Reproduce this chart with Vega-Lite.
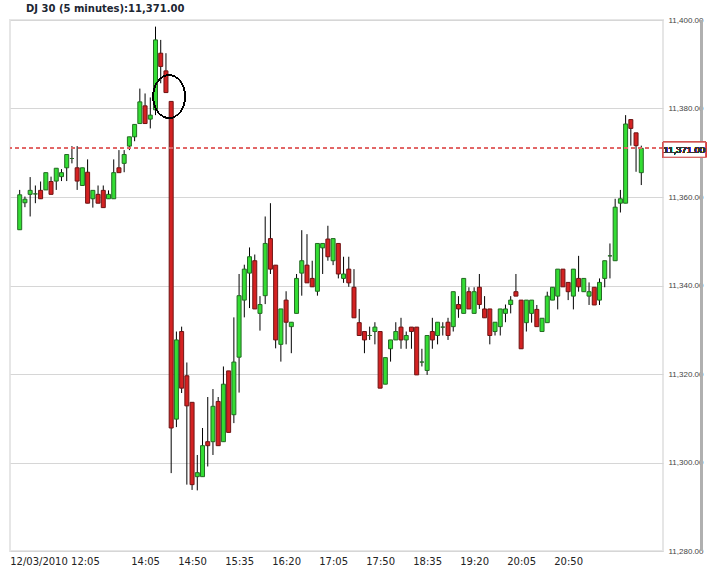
{
  "$schema": "https://vega.github.io/schema/vega-lite/v6.json",
  "width": 653,
  "height": 531,
  "autosize": "none",
  "padding": {"left": 10, "top": 20, "right": 49, "bottom": 20},
  "background": "#ffffff",
  "title": {
    "text": "DJ 30 (5 minutes):11,371.00",
    "frame": "group",
    "anchor": "start",
    "dx": 16,
    "offset": 2,
    "font": "DejaVu Sans",
    "fontSize": 10,
    "fontWeight": "bold",
    "color": "#1c2632"
  },
  "config": {
    "view": {"stroke": "#e6e6e6", "strokeWidth": 2},
    "font": "Liberation Sans"
  },
  "data": {
    "values": [
      {"i":1,"o":11352.6,"h":11361.6,"l":11352.6,"c":11360.5},
      {"i":2,"o":11358.7,"h":11360.1,"l":11357.7,"c":11359.5},
      {"i":3,"o":11360.6,"h":11364.5,"l":11355.6,"c":11361.5},
      {"i":4,"o":11360.7,"h":11362.6,"l":11358.6,"c":11360.7},
      {"i":5,"o":11361.5,"h":11363.5,"l":11359.6,"c":11359.6},
      {"i":6,"o":11361.6,"h":11365.5,"l":11361.6,"c":11365.5},
      {"i":7,"o":11363.5,"h":11364.6,"l":11360.6,"c":11360.6},
      {"i":8,"o":11363.6,"h":11366.5,"l":11361.6,"c":11366.5},
      {"i":9,"o":11364.6,"h":11366.3,"l":11363.6,"c":11365.5},
      {"i":10,"o":11366.6,"h":11369.6,"l":11363.6,"c":11369.6},
      {"i":11,"o":11368.7,"h":11371.5,"l":11367.6,"c":11368.7},
      {"i":12,"o":11366.6,"h":11371.5,"l":11361.6,"c":11363.6},
      {"i":13,"o":11362.6,"h":11366.6,"l":11362.6,"c":11366.6},
      {"i":14,"o":11365.6,"h":11368.5,"l":11358.6,"c":11358.6},
      {"i":15,"o":11359.6,"h":11361.5,"l":11357.6,"c":11361.5},
      {"i":16,"o":11360.6,"h":11362.6,"l":11358.6,"c":11358.6},
      {"i":17,"o":11361.5,"h":11362.6,"l":11357.6,"c":11357.6},
      {"i":18,"o":11359.6,"h":11361.5,"l":11359.6,"c":11360.6},
      {"i":19,"o":11359.6,"h":11368.5,"l":11359.6,"c":11365.5},
      {"i":20,"o":11366.6,"h":11370.6,"l":11365.5,"c":11365.5},
      {"i":21,"o":11367.6,"h":11370.6,"l":11365.6,"c":11369.6},
      {"i":22,"o":11371.5,"h":11373.6,"l":11370.6,"c":11373.6},
      {"i":23,"o":11373.6,"h":11376.4,"l":11372.6,"c":11376.4},
      {"i":24,"o":11376.6,"h":11384.5,"l":11376.6,"c":11381.5},
      {"i":25,"o":11380.6,"h":11383.4,"l":11376.6,"c":11376.6},
      {"i":26,"o":11377.6,"h":11382.5,"l":11375.5,"c":11378.5},
      {"i":27,"o":11379.7,"h":11398.5,"l":11378.5,"c":11395.5},
      {"i":28,"o":11392.5,"h":11395.5,"l":11385.7,"c":11389.5},
      {"i":29,"o":11388.5,"h":11392.5,"l":11383.6,"c":11383.6},
      {"i":30,"o":11381.6,"h":11381.6,"l":11297.6,"c":11307.8},
      {"i":31,"o":11309.8,"h":11329.6,"l":11308.0,"c":11327.7},
      {"i":32,"o":11329.6,"h":11330.7,"l":11315.7,"c":11316.8},
      {"i":33,"o":11319.6,"h":11322.6,"l":11295.0,"c":11312.8},
      {"i":34,"o":11313.6,"h":11313.6,"l":11293.8,"c":11295.0},
      {"i":35,"o":11296.8,"h":11301.7,"l":11293.7,"c":11297.7},
      {"i":36,"o":11296.8,"h":11307.8,"l":11296.8,"c":11303.8},
      {"i":37,"o":11304.7,"h":11314.8,"l":11299.1,"c":11303.8},
      {"i":38,"o":11304.7,"h":11316.6,"l":11301.7,"c":11312.7},
      {"i":39,"o":11313.8,"h":11314.8,"l":11303.8,"c":11303.8},
      {"i":40,"o":11304.7,"h":11321.7,"l":11304.7,"c":11317.7},
      {"i":41,"o":11320.7,"h":11320.7,"l":11306.8,"c":11306.8},
      {"i":42,"o":11310.8,"h":11332.8,"l":11308.9,"c":11322.7},
      {"i":43,"o":11323.8,"h":11342.6,"l":11315.8,"c":11337.7},
      {"i":44,"o":11336.7,"h":11344.7,"l":11332.8,"c":11343.7},
      {"i":45,"o":11342.8,"h":11348.6,"l":11334.9,"c":11346.5},
      {"i":46,"o":11345.6,"h":11347.0,"l":11334.7,"c":11334.7},
      {"i":47,"o":11333.7,"h":11337.6,"l":11329.8,"c":11335.7},
      {"i":48,"o":11337.7,"h":11355.6,"l":11335.8,"c":11349.5},
      {"i":49,"o":11350.6,"h":11358.6,"l":11342.6,"c":11343.7},
      {"i":50,"o":11344.6,"h":11344.6,"l":11325.8,"c":11327.7},
      {"i":51,"o":11326.7,"h":11334.7,"l":11322.8,"c":11334.7},
      {"i":52,"o":11336.7,"h":11338.7,"l":11326.7,"c":11331.7},
      {"i":53,"o":11330.7,"h":11331.7,"l":11324.7,"c":11331.7},
      {"i":54,"o":11333.7,"h":11342.6,"l":11333.7,"c":11341.6},
      {"i":55,"o":11342.8,"h":11352.5,"l":11337.7,"c":11345.6},
      {"i":56,"o":11344.6,"h":11351.6,"l":11340.6,"c":11340.6},
      {"i":57,"o":11341.6,"h":11345.6,"l":11339.7,"c":11339.7},
      {"i":58,"o":11338.7,"h":11349.5,"l":11337.7,"c":11349.5},
      {"i":59,"o":11348.5,"h":11349.5,"l":11342.6,"c":11349.5},
      {"i":60,"o":11350.5,"h":11353.5,"l":11345.6,"c":11346.5},
      {"i":61,"o":11345.6,"h":11350.6,"l":11344.6,"c":11350.6},
      {"i":62,"o":11349.5,"h":11349.5,"l":11341.6,"c":11342.6},
      {"i":63,"o":11341.6,"h":11346.5,"l":11340.6,"c":11342.6},
      {"i":64,"o":11343.7,"h":11346.5,"l":11339.7,"c":11340.6},
      {"i":65,"o":11339.6,"h":11343.7,"l":11332.7,"c":11332.7},
      {"i":66,"o":11331.6,"h":11334.7,"l":11328.7,"c":11328.7},
      {"i":67,"o":11329.6,"h":11329.6,"l":11324.7,"c":11327.7},
      {"i":68,"o":11328.7,"h":11330.7,"l":11327.7,"c":11328.7},
      {"i":69,"o":11329.6,"h":11331.7,"l":11326.7,"c":11330.6},
      {"i":70,"o":11329.6,"h":11329.6,"l":11316.8,"c":11316.8},
      {"i":71,"o":11317.7,"h":11323.7,"l":11317.7,"c":11323.7},
      {"i":72,"o":11325.7,"h":11327.7,"l":11322.8,"c":11327.7},
      {"i":73,"o":11327.7,"h":11331.7,"l":11327.7,"c":11329.6},
      {"i":74,"o":11330.6,"h":11332.7,"l":11325.7,"c":11327.7},
      {"i":75,"o":11327.7,"h":11329.6,"l":11325.7,"c":11328.7},
      {"i":76,"o":11330.6,"h":11330.6,"l":11325.7,"c":11329.6},
      {"i":77,"o":11330.6,"h":11330.6,"l":11319.8,"c":11319.8},
      {"i":78,"o":11322.7,"h":11325.7,"l":11321.7,"c":11322.7},
      {"i":79,"o":11320.8,"h":11328.7,"l":11319.8,"c":11328.7},
      {"i":80,"o":11329.6,"h":11332.7,"l":11325.7,"c":11327.7},
      {"i":81,"o":11328.7,"h":11331.7,"l":11326.7,"c":11331.7},
      {"i":82,"o":11330.6,"h":11331.7,"l":11328.7,"c":11330.6},
      {"i":83,"o":11331.7,"h":11332.7,"l":11327.7,"c":11328.7},
      {"i":84,"o":11330.7,"h":11338.6,"l":11329.6,"c":11338.6},
      {"i":85,"o":11335.7,"h":11337.6,"l":11332.7,"c":11334.7},
      {"i":86,"o":11333.7,"h":11341.6,"l":11333.7,"c":11341.6},
      {"i":87,"o":11338.6,"h":11339.6,"l":11334.7,"c":11334.7},
      {"i":88,"o":11333.7,"h":11339.6,"l":11333.7,"c":11338.6},
      {"i":89,"o":11339.6,"h":11342.6,"l":11334.7,"c":11335.7},
      {"i":90,"o":11334.7,"h":11337.6,"l":11332.7,"c":11332.7},
      {"i":91,"o":11334.7,"h":11334.7,"l":11326.7,"c":11328.7},
      {"i":92,"o":11329.6,"h":11331.7,"l":11328.7,"c":11331.7},
      {"i":93,"o":11330.7,"h":11334.7,"l":11328.7,"c":11334.7},
      {"i":94,"o":11333.7,"h":11335.7,"l":11331.7,"c":11334.7},
      {"i":95,"o":11335.7,"h":11337.6,"l":11333.7,"c":11336.7},
      {"i":96,"o":11338.6,"h":11342.6,"l":11337.6,"c":11337.6},
      {"i":97,"o":11336.7,"h":11336.7,"l":11325.7,"c":11325.7},
      {"i":98,"o":11331.6,"h":11336.7,"l":11329.6,"c":11336.7},
      {"i":99,"o":11333.7,"h":11336.7,"l":11331.6,"c":11336.7},
      {"i":100,"o":11334.6,"h":11335.6,"l":11330.7,"c":11330.7},
      {"i":101,"o":11329.6,"h":11332.6,"l":11329.6,"c":11332.6},
      {"i":102,"o":11331.6,"h":11338.6,"l":11331.6,"c":11337.6},
      {"i":103,"o":11336.7,"h":11339.6,"l":11336.7,"c":11339.6},
      {"i":104,"o":11337.6,"h":11343.7,"l":11334.6,"c":11343.7},
      {"i":105,"o":11343.7,"h":11343.7,"l":11339.7,"c":11339.7},
      {"i":106,"o":11340.7,"h":11340.7,"l":11336.7,"c":11338.6},
      {"i":107,"o":11337.6,"h":11343.7,"l":11334.6,"c":11343.7},
      {"i":108,"o":11341.6,"h":11346.7,"l":11338.6,"c":11339.7},
      {"i":109,"o":11338.6,"h":11341.6,"l":11338.6,"c":11341.6},
      {"i":110,"o":11337.6,"h":11340.7,"l":11335.6,"c":11338.6},
      {"i":111,"o":11339.6,"h":11339.6,"l":11335.6,"c":11335.6},
      {"i":112,"o":11336.7,"h":11341.6,"l":11335.6,"c":11340.7},
      {"i":113,"o":11341.6,"h":11345.6,"l":11339.6,"c":11345.6},
      {"i":114,"o":11346.7,"h":11349.5,"l":11341.6,"c":11346.7},
      {"i":115,"o":11345.6,"h":11359.6,"l":11345.6,"c":11357.7},
      {"i":116,"o":11358.6,"h":11361.6,"l":11356.5,"c":11359.6},
      {"i":117,"o":11358.6,"h":11378.5,"l":11358.6,"c":11376.5},
      {"i":118,"o":11377.5,"h":11377.5,"l":11371.6,"c":11375.5},
      {"i":119,"o":11374.5,"h":11374.5,"l":11365.7,"c":11371.6},
      {"i":120,"o":11365.5,"h":11371.6,"l":11362.7,"c":11371.0}
    ]
  },
  "layer": [
    {
      "mark": {"type": "rule", "color": "#b0b0b0", "strokeWidth": 2},
      "encoding": {
        "x": {"datum": 131.6, "type": "quantitative"}
      }
    },
    {
      "mark": {"type": "rule", "color": "#000000", "strokeWidth": 1},
      "encoding": {
        "x": {
          "field": "i",
          "type": "quantitative",
          "title": null,
          "scale": {"domain": [0.1, 123.2], "nice": false, "zero": false},
          "axis": {
            "values": [1, 25, 34, 43, 52, 61, 70, 79, 88, 97, 106],
            "labelExpr": "['12/03/2010 12:05','14:05','14:50','15:35','16:20','17:05','17:50','18:35','19:20','20:05','20:50'][indexof([1,25,34,43,52,61,70,79,88,97,106], datum.value)]",
            "grid": false,
            "ticks": false,
            "domain": false,
            "labelFont": "DejaVu Sans",
            "labelFontSize": 10,
            "labelColor": "#222222",
            "labelPadding": 5,
            "labelAlign": {"condition": {"test": "datum.value == 1", "value": "left"}, "value": "center"},
            "labelOffset": {"condition": {"test": "datum.value == 1", "value": -10}, "value": 0},
            "labelFlush": false,
            "labelOverlap": false,
            "labelBound": false
          }
        },
        "y": {
          "field": "l",
          "type": "quantitative",
          "title": null,
          "scale": {"domain": [11280, 11400], "nice": false, "zero": false},
          "axis": {
            "orient": "right",
            "values": [11280, 11300, 11320, 11340, 11360, 11380, 11400],
            "format": ",.2f",
            "grid": true,
            "gridColor": "#d6d6d6",
            "gridWidth": 1,
            "ticks": false,
            "domain": false,
            "labelFont": "Liberation Sans",
            "labelFontSize": 8,
            "labelColor": "#444444",
            "labelPadding": 5,
            "labelFlush": false,
            "labelOverlap": false
          }
        },
        "y2": {"field": "h"}
      }
    },
    {
      "mark": {"type": "bar", "width": 4, "strokeWidth": 1},
      "encoding": {
        "x": {"field": "i", "type": "quantitative", "title": null},
        "y": {"field": "o", "type": "quantitative", "title": null},
        "y2": {"field": "c"},
        "fill": {
          "condition": {"test": "datum.c >= datum.o", "value": "#33dd33"},
          "value": "#d42222"
        },
        "stroke": {
          "condition": {"test": "datum.c >= datum.o", "value": "#236b23"},
          "value": "#6e1414"
        }
      }
    },
    {
      "mark": {"type": "rule", "color": "#e06666", "strokeWidth": 1, "strokeDash": [4, 3]},
      "encoding": {
        "y": {"datum": 11371, "type": "quantitative"}
      }
    },
    {
      "mark": {
        "type": "point",
        "shape": "M -0.744 0 A 0.744 1 0 1 1 0.744 0 A 0.744 1 0 1 1 -0.744 0 Z",
        "filled": false,
        "stroke": "#000000",
        "strokeWidth": 1,
        "size": 1849,
        "opacity": 1
      },
      "encoding": {
        "x": {"datum": 29.6, "type": "quantitative"},
        "y": {"datum": 11382.7, "type": "quantitative"}
      }
    },
    {
      "mark": {"type": "rect", "fill": "#ffffff", "stroke": "#d05555", "strokeWidth": 1},
      "encoding": {
        "x": {"datum": 124.2, "type": "quantitative"},
        "x2": {"datum": 132.3},
        "y": {"datum": 11369.0, "type": "quantitative"},
        "y2": {"datum": 11372.4}
      }
    },
    {
      "mark": {"type": "text", "font": "Liberation Sans", "fontSize": 9.5, "color": "#333333", "align": "center", "baseline": "middle"},
      "encoding": {
        "x": {"datum": 128.25, "type": "quantitative"},
        "y": {"datum": 11370.7, "type": "quantitative"},
        "text": {"value": "11,371.00"}
      }
    }
  ]
}
